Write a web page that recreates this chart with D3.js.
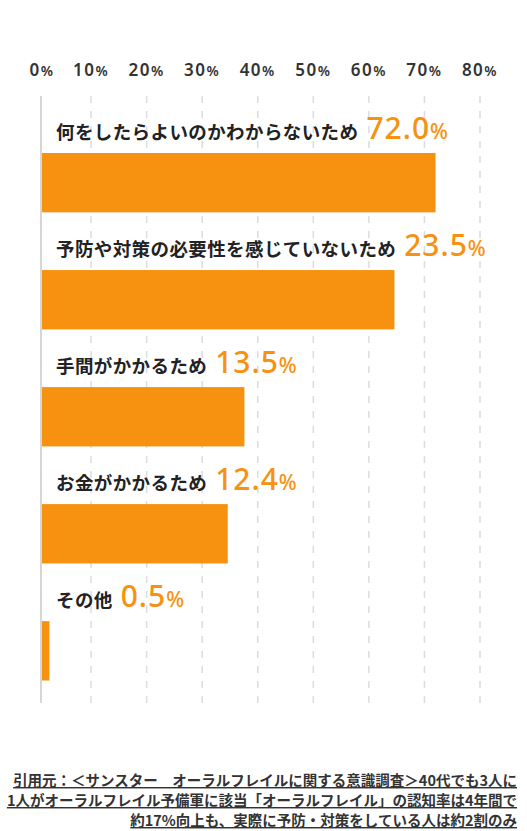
<!DOCTYPE html>
<html lang="ja">
<head>
    <meta charset="utf-8" />
    <title>理由</title>
    <script src="https://d3js.org/d3.v7.min.js"></script>
    <style>
        body { margin: 0; background: #fff; }
        svg { display: block; }
    </style>
</head>
<body>
    <script>

        // data
        var categories = ["何をしたらよいのかわからないため", "予防や対策の必要性を感じていないため",
            "手間がかかるため", "お金がかかるため", "その他"];
        var valueLabels = ["72.0", "23.5", "13.5", "12.4", "0.5"];
        // bar lengths as drawn (in % of the axis), they do not follow the labels
        var barValues = [72.0, 64.6, 37.6, 34.6, 2.5];
        var tickValues = [0, 10, 20, 30, 40, 50, 60, 70, 80];
        var sourceLines = ["引用元：＜サンスター　オーラルフレイルに関する意識調査＞40代でも3人に",
            "1人がオーラルフレイル予備軍に該当「オーラルフレイル」の認知率は4年間で",
            "約17%向上も、実際に予防・対策をしている人は約2割のみ"];

        var w = 527;
        var h = 831;
        var orange = "#f6920f";
        var axisX = 41;
        var gridTop = 96, gridBottom = 703;

        var svg = d3.select("body")
            .append("svg")
            .attr("width", w)
            .attr("height", h);

        var x = d3.scaleLinear()
            .domain([0, 80])
            .range([35.5, 480]);

        var y = d3.scaleBand()
            .domain(d3.range(categories.length))
            .range([153, 680.5])
            .paddingInner(0.493)
            .paddingOuter(0);

        // dashed grid
        svg.selectAll("line.grid")
            .data(tickValues.slice(1))
            .enter()
            .append("line")
            .attr("class", "grid")
            .attr("x1", function (d) { return x(d); })
            .attr("x2", function (d) { return x(d); })
            .attr("y1", gridTop)
            .attr("y2", gridBottom)
            .attr("stroke", "#dcdcdc")
            .attr("stroke-width", 1.5)
            .attr("stroke-dasharray", "7,8");

        svg.append("line")
            .attr("x1", axisX).attr("x2", axisX)
            .attr("y1", gridTop).attr("y2", gridBottom)
            .attr("stroke", "#d6d6d6")
            .attr("stroke-width", 2);

        // tick labels
        var ticks = svg.selectAll("text.tick")
            .data(tickValues)
            .enter()
            .append("text")
            .attr("class", "tick")
            .attr("x", function (d) { return Math.max(x(d), axisX + 1); })
            .attr("y", 76)
            .attr("text-anchor", "middle")
            .attr("font-family", "'Noto Sans', sans-serif")
            .attr("font-weight", 600)
            .attr("font-size", "17px")
            .attr("letter-spacing", "1.5px")
            .attr("fill", "#333");
        ticks.append("tspan").text(function (d) { return d; });
        ticks.append("tspan").attr("font-size", "14px").text("%");

        // bars
        svg.selectAll("rect.bar")
            .data(barValues)
            .enter()
            .append("rect")
            .attr("class", "bar")
            .attr("x", axisX + 1)
            .attr("y", function (d, i) { return y(i); })
            .attr("width", function (d) { return x(d) - axisX - 1; })
            .attr("height", y.bandwidth())
            .attr("fill", orange);

        // category labels + values
        categories.forEach(function (c, i) {
            var base = y(i) - 14;
            var lab = svg.append("text")
                .attr("x", 56)
                .attr("y", base)
                .attr("font-family", "'Noto Sans CJK JP', sans-serif")
                .attr("font-weight", 700)
                .attr("font-size", "18.5px")
                .attr("letter-spacing", "0.4px")
                .attr("fill", "#222")
                .text(c);
            var end = 56 + lab.node().getComputedTextLength();
            var val = svg.append("text")
                .attr("x", end + 8)
                .attr("y", base)
                .attr("font-family", "'Noto Sans', sans-serif")
                .attr("font-weight", 500)
                .attr("font-size", "30px")
                .attr("letter-spacing", "1px")
                .attr("fill", orange);
            val.append("tspan").text(valueLabels[i]);
            val.append("tspan").attr("font-size", "21px").text("%");
        });

        // source note
        svg.selectAll("text.src")
            .data(sourceLines)
            .enter()
            .append("text")
            .attr("class", "src")
            .attr("x", 517)
            .attr("y", function (d, i) { return 786 + i * 20; })
            .attr("text-anchor", "end")
            .attr("font-family", "'Noto Sans CJK JP', sans-serif")
            .attr("font-weight", 700)
            .attr("font-size", "14.5px")
            .attr("fill", "#333")
            .style("text-decoration", "underline")
            .text(function (d) { return d; });

    </script>
</body>
</html>
